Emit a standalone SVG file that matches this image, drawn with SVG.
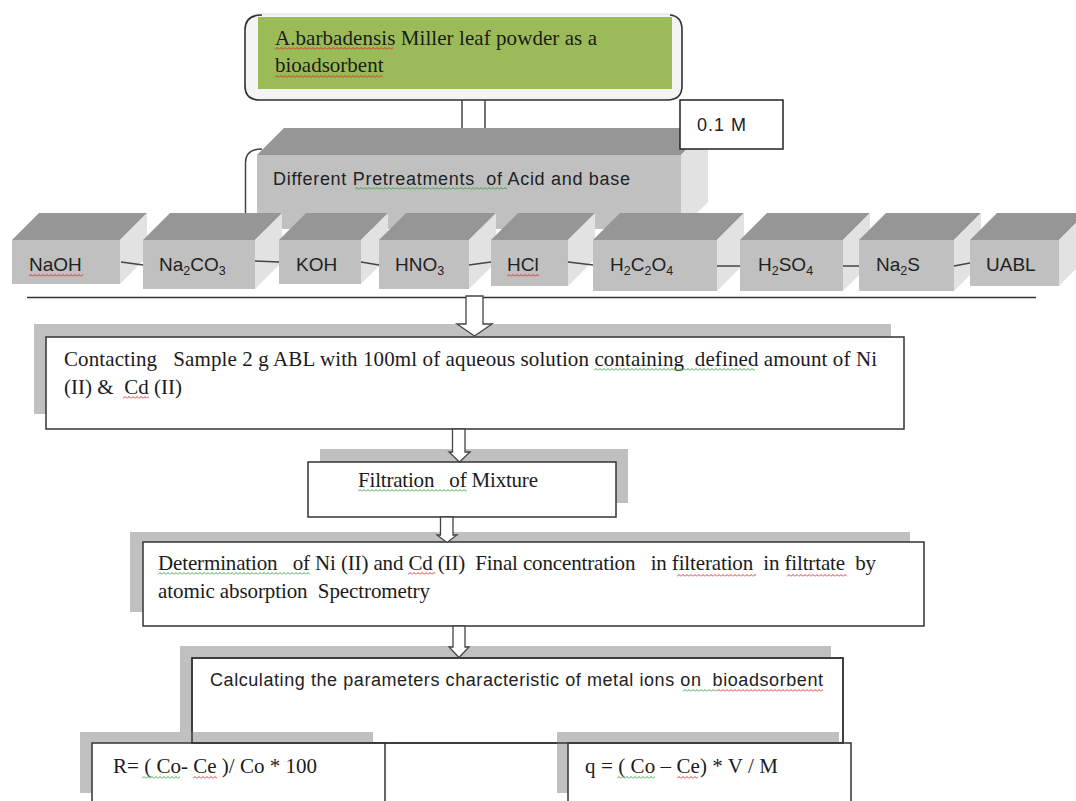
<svg xmlns="http://www.w3.org/2000/svg" width="1076" height="801" viewBox="0 0 1076 801">
<style>
.ts{font-family:"Liberation Serif","Times New Roman",serif;font-size:21px;fill:#1b1b1b}
.cs{font-family:"Liberation Sans",Arial,sans-serif;font-size:18px;fill:#222}
.lb{font-family:"Liberation Sans",Arial,sans-serif;font-size:19px;fill:#222}
.box{fill:#fff;stroke:#333;stroke-width:1.5}
.outline{fill:none;stroke:#333;stroke-width:1.5}
.sh{fill:#c0c0c0}
.top{fill:#969696}
.front{fill:#c0c0c0}
.side{fill:#e2e2e2}
.arrow{fill:#fff;stroke:#444;stroke-width:1.3;stroke-linejoin:miter}
.link{stroke:#444;stroke-width:1.5;fill:none}
</style>
<defs>
<pattern id="sqR" width="4" height="3" patternUnits="userSpaceOnUse"><path d="M0,2.5 L2,0.5 L4,2.5" fill="none" stroke="#e02020" stroke-width="0.9"/></pattern>
<pattern id="sqG" width="4" height="3" patternUnits="userSpaceOnUse"><path d="M0,2.5 L2,0.5 L4,2.5" fill="none" stroke="#2e9e3a" stroke-width="0.9"/></pattern>
</defs>
<rect width="1076" height="801" fill="#fff"/>

<g id="connectors">
<line class="link" x1="462" y1="100" x2="462" y2="129"/>
<line class="link" x1="485" y1="100" x2="485" y2="129"/>
<path class="link" d="M245.5,214 L245.5,163 Q245.5,149 262,149"/>
</g>

<g id="node-source">
<rect x="245" y="14" width="437" height="86" rx="13" fill="#f4f4f4" stroke="#dcdcdc" stroke-width="1"/>
<path d="M262,15 Q245,15 245,30 L245,86 Q245,100 260,100 L667,100 Q682,100 682,86 L682,30 Q682,16 670,15" fill="none" stroke="#333" stroke-width="1.6"/>
<rect x="258" y="17" width="414" height="72" fill="#9bbb59"/>
<text class="ts" x="275" y="44.5" textLength="322" lengthAdjust="spacing" xml:space="preserve">A.barbadensis Miller leaf powder as a</text>
<text class="ts" x="275" y="72" xml:space="preserve">bioadsorbent</text>
</g>

<g id="node-pretreatments">
<polygon class="top" points="257,155 284,128 708,128 681,155"/>
<rect class="front" x="257" y="155" width="424" height="74"/>
<polygon class="side" points="681,155 708,128 708,202 681,229"/>
<text class="cs" x="273" y="185" textLength="357" lengthAdjust="spacing" xml:space="preserve">Different Pretreatments  of Acid and base</text>
</g>

<g id="node-conc">
<rect x="680" y="100" width="103" height="49" fill="#fff" stroke="#222" stroke-width="1.5"/>
<text class="cs" x="697" y="131" textLength="49" lengthAdjust="spacing">0.1 M</text>
</g>

<g id="node-naoh">
<polygon class="top" points="12,240 39,213 147,213 120,240"/>
<rect class="front" x="12" y="240" width="108" height="44"/>
<polygon class="side" points="120,240 147,213 147,257 120,284"/>
<text class="lb" x="29" y="271">NaOH</text>
</g>
<g id="node-na2co3">
<polygon class="top" points="143,240 170,213 282,213 255,240"/>
<rect class="front" x="143" y="240" width="112" height="49"/>
<polygon class="side" points="255,240 282,213 282,262 255,289"/>
<text class="lb" x="159" y="271">Na<tspan font-size="12.5" dy="4">2</tspan><tspan dy="-4">CO</tspan><tspan font-size="12.5" dy="4">3</tspan></text>
</g>
<g id="node-koh">
<polygon class="top" points="279,240 306,213 388,213 361,240"/>
<rect class="front" x="279" y="240" width="82" height="44"/>
<polygon class="side" points="361,240 388,213 388,257 361,284"/>
<text class="lb" x="296" y="271">KOH</text>
</g>
<g id="node-hno3">
<polygon class="top" points="379,240 406,213 496,213 469,240"/>
<rect class="front" x="379" y="240" width="90" height="49"/>
<polygon class="side" points="469,240 496,213 496,262 469,289"/>
<text class="lb" x="395" y="271">HNO<tspan font-size="12.5" dy="4">3</tspan></text>
</g>
<g id="node-hcl">
<polygon class="top" points="491,240 518,213 595,213 568,240"/>
<rect class="front" x="491" y="240" width="77" height="46"/>
<polygon class="side" points="568,240 595,213 595,259 568,286"/>
<text class="lb" x="507" y="271">HCl</text>
</g>
<g id="node-h2c2o4">
<polygon class="top" points="593,240 620,213 744,213 717,240"/>
<rect class="front" x="593" y="240" width="124" height="51"/>
<polygon class="side" points="717,240 744,213 744,264 717,291"/>
<text class="lb" x="610" y="271">H<tspan font-size="12.5" dy="4">2</tspan><tspan dy="-4">C</tspan><tspan font-size="12.5" dy="4">2</tspan><tspan dy="-4">O</tspan><tspan font-size="12.5" dy="4">4</tspan></text>
</g>
<g id="node-h2so4">
<polygon class="top" points="740,240 767,213 870,213 843,240"/>
<rect class="front" x="740" y="240" width="103" height="51"/>
<polygon class="side" points="843,240 870,213 870,264 843,291"/>
<text class="lb" x="758" y="271">H<tspan font-size="12.5" dy="4">2</tspan><tspan dy="-4">SO</tspan><tspan font-size="12.5" dy="4">4</tspan></text>
</g>
<g id="node-na2s">
<polygon class="top" points="859,240 886,213 981,213 954,240"/>
<rect class="front" x="859" y="240" width="95" height="51"/>
<polygon class="side" points="954,240 981,213 981,264 954,291"/>
<text class="lb" x="876" y="271">Na<tspan font-size="12.5" dy="4">2</tspan><tspan dy="-4">S</tspan></text>
</g>
<g id="node-uabl">
<polygon class="top" points="970,240 997,213 1086,213 1059,240"/>
<rect class="front" x="970" y="240" width="89" height="46"/>
<polygon class="side" points="1059,240 1086,213 1086,259 1059,286"/>
<text class="lb" x="986" y="271">UABL</text>
</g>

<g id="connectors-row">
<line class="link" x1="121" y1="262" x2="143" y2="265"/>
<line class="link" x1="255" y1="261" x2="279" y2="262"/>
<line class="link" x1="361" y1="262" x2="379" y2="265"/>
<line class="link" x1="469" y1="265" x2="491" y2="262"/>
<line class="link" x1="568" y1="262" x2="593" y2="265"/>
<line class="link" x1="717" y1="266" x2="740" y2="266"/>
<line class="link" x1="843" y1="266" x2="859" y2="266"/>
<line class="link" x1="954" y1="266" x2="970" y2="263"/>
<line x1="27" y1="297.5" x2="1036" y2="297.5" stroke="#333" stroke-width="1.6"/>
</g>

<g id="node-contacting">
<rect class="sh" x="34" y="324" width="857" height="90"/>
<rect class="box" x="46" y="337" width="858" height="92"/>
<text class="ts" x="64" y="366" textLength="813" lengthAdjust="spacing" xml:space="preserve">Contacting   Sample 2 g ABL with 100ml of aqueous solution containing  defined amount of Ni</text>
<text class="ts" x="64" y="393.5" textLength="118" lengthAdjust="spacing" xml:space="preserve">(II) &amp;  Cd (II)</text>
</g>

<g id="node-filtration">
<rect class="sh" x="320" y="449" width="308" height="54"/>
<rect class="box" x="308" y="462" width="308" height="55"/>
<text class="ts" x="358" y="487" textLength="180" lengthAdjust="spacing" xml:space="preserve">Filtration   of Mixture</text>
</g>

<g id="node-determination">
<rect class="sh" x="130" y="532" width="780" height="80"/>
<rect class="box" x="143" y="542" width="781" height="84"/>
<text class="ts" x="158" y="570" textLength="718" lengthAdjust="spacing" xml:space="preserve">Determination   of Ni (II) and Cd (II)  Final concentration   in filteration  in filtrtate  by</text>
<text class="ts" x="158" y="598" textLength="272" lengthAdjust="spacing" xml:space="preserve">atomic absorption  Spectrometry</text>
</g>

<g id="node-calculating">
<rect class="sh" x="180" y="646" width="651" height="86"/>
<rect class="box" x="192" y="658" width="651" height="85"/>
<text class="cs" x="210" y="686" textLength="613" lengthAdjust="spacing" xml:space="preserve">Calculating the parameters characteristic of metal ions on  bioadsorbent</text>
</g>

<g id="node-r">
<rect class="sh" x="80" y="732" width="293" height="61"/>
<rect class="box" x="92" y="743" width="293" height="70"/>
<text class="ts" x="113" y="773" textLength="204" lengthAdjust="spacing" xml:space="preserve">R= ( Co- Ce )/ Co * 100</text>
</g>

<g id="node-q">
<rect class="sh" x="557" y="732" width="282" height="61"/>
<rect class="box" x="568" y="743" width="283" height="70"/>
<text class="ts" x="585" y="773" textLength="193" lengthAdjust="spacing" xml:space="preserve">q = ( Co – Ce) * V / M</text>
</g>

<g id="node-calculating-outline">
<rect class="outline" x="192" y="658" width="651" height="85"/>
</g>

<g id="connectors-arrows">
<polygon class="arrow" points="466,296 483,296 483,324 492,324 474.5,336 457,324 466,324"/>
<polygon class="arrow" points="452.5,429 465,429 465,452 470,452 459.5,462 449,452 452.5,452"/>
<polygon class="arrow" points="440.5,517 453,517 453,535 457,535 447,542.5 437,535 440.5,535"/>
<polygon class="arrow" points="453,626 465,626 465,647 469,647 459,657.5 449,647 453,647"/>
</g>

<g id="spellmarks">
<rect transform="translate(275,47)" width="118" height="3" fill="url(#sqR)"/>
<rect transform="translate(275,75)" width="108" height="3" fill="url(#sqR)"/>
<rect transform="translate(355,187)" width="152" height="3" fill="url(#sqG)"/>
<rect transform="translate(29,274)" width="54" height="3" fill="url(#sqR)"/>
<rect transform="translate(507,274)" width="32" height="3" fill="url(#sqR)"/>
<rect transform="translate(594,368)" width="161" height="3" fill="url(#sqG)"/>
<rect transform="translate(123,396)" width="26" height="3" fill="url(#sqR)"/>
<rect transform="translate(358,489)" width="109" height="3" fill="url(#sqG)"/>
<rect transform="translate(158,572)" width="152" height="3" fill="url(#sqG)"/>
<rect transform="translate(408,572)" width="27" height="3" fill="url(#sqR)"/>
<rect transform="translate(677,574)" width="79" height="3" fill="url(#sqR)"/>
<rect transform="translate(787,574)" width="60" height="3" fill="url(#sqR)"/>
<rect transform="translate(683,689)" width="34" height="3" fill="url(#sqG)"/>
<rect transform="translate(717,689)" width="106" height="3" fill="url(#sqR)"/>
<rect transform="translate(142,776)" width="38" height="3" fill="url(#sqG)"/>
<rect transform="translate(193,776)" width="24" height="3" fill="url(#sqR)"/>
<rect transform="translate(617,776)" width="38" height="3" fill="url(#sqG)"/>
<rect transform="translate(677,776)" width="21" height="3" fill="url(#sqR)"/>
</g>
</svg>
